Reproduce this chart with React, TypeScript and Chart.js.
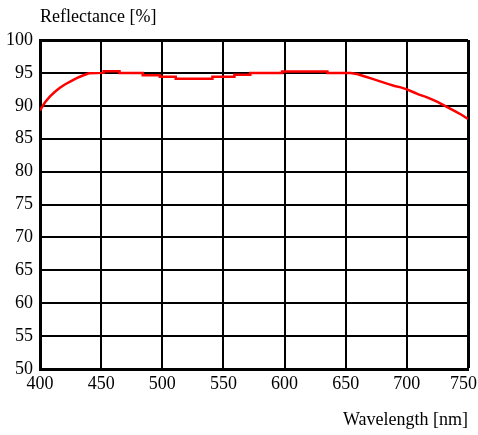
import React, { useEffect, useRef } from "react";
import { Chart, registerables } from "chart.js";

Chart.register(...registerables);

const wavelengths = [400, 404, 408, 412, 416, 420, 425, 430, 435, 440, 452, 452, 465, 465, 484, 484, 498, 498, 511, 511, 541, 541, 559, 559, 572, 572, 598, 598, 635, 635, 654, 660, 665, 670, 675, 680, 685, 690, 695, 700, 705, 710, 715, 720, 725, 730, 735, 740, 745, 750];
const reflectance = [89.3, 90.5, 91.4, 92.1, 92.7, 93.2, 93.7, 94.2, 94.6, 94.95, 95.0, 95.25, 95.25, 95.0, 95.0, 94.65, 94.65, 94.4, 94.4, 94.1, 94.1, 94.4, 94.4, 94.7, 94.7, 95.0, 95.0, 95.2, 95.2, 95.0, 95.0, 94.8, 94.5, 94.2, 93.9, 93.6, 93.3, 93.0, 92.8, 92.5, 92.1, 91.7, 91.4, 91.0, 90.6, 90.1, 89.6, 89.1, 88.6, 88.0];

const xTitle = "Wavelength [nm]";
const yTitle = "Reflectance [%]";

const FONT = "'Liberation Serif', 'Times New Roman', serif";

export default function App() {
  const ref = useRef<HTMLCanvasElement>(null);
  useEffect(() => {
    if (!ref.current) return;
    const data = wavelengths.map((x, i) => ({ x, y: reflectance[i] }));
    const chart = new Chart(ref.current, {
      type: "line",
      data: {
        datasets: [
          {
            data,
            borderColor: "#ff0000",
            borderWidth: 2.5,
            pointRadius: 0,
            tension: 0,
            fill: false,
          },
        ],
      },
      options: {
        responsive: false,
        animation: false,
        layout: { padding: { left: 0, right: 10, top: 0, bottom: 0 } },
        plugins: {
          legend: { display: false },
          tooltip: { enabled: false },
          title: {
            display: true,
            text: yTitle,
            align: "start",
            fullSize: false,
            color: "#000",
            font: { family: FONT, size: 18, weight: "normal" },
            padding: { top: 6, bottom: 12.4 },
          },
        },
        scales: {
          x: {
            type: "linear",
            min: 400,
            max: 750,
            afterFit: (s: any) => {
              s.height = 66;
              s.paddingLeft = 0;
              s.paddingRight = 0;
            },
            ticks: {
              stepSize: 50,
              color: "#000",
              padding: 4,
              font: { family: FONT, size: 18 },
              maxRotation: 0,
              callback: (v: any) => (v === 750 ? "750\u00a0\u00a0" : String(v)),
            },
            grid: {
              color: "#000",
              lineWidth: (c: any) => (c.index === 7 ? 3 : 2),
              drawTicks: false,
            },
            border: { display: true, color: "#000", width: 3 },
            title: {
              display: true,
              text: xTitle,
              align: "end",
              color: "#000",
              font: { family: FONT, size: 18 },
              padding: { top: 0, bottom: 4 },
            },
          },
          y: {
            type: "linear",
            min: 50,
            max: 100,
            afterFit: (s: any) => {
              s.width = 40;
              s.paddingTop = 0;
              s.paddingBottom = 0;
            },
            ticks: {
              stepSize: 5,
              color: "#000",
              padding: 7,
              font: { family: FONT, size: 18 },
            },
            grid: {
              color: "#000",
              lineWidth: (c: any) => (c.index === 10 ? 3 : 2),
              drawTicks: false,
            },
            border: { display: true, color: "#000", width: 3 },
          },
        },
      },
    });
    return () => chart.destroy();
  }, []);
  return (
    <div style={{ position: "fixed", left: 0, top: 0, width: 478, height: 435, background: "#fff" }}>
      <canvas ref={ref} width={478} height={435} />
    </div>
  );
}
